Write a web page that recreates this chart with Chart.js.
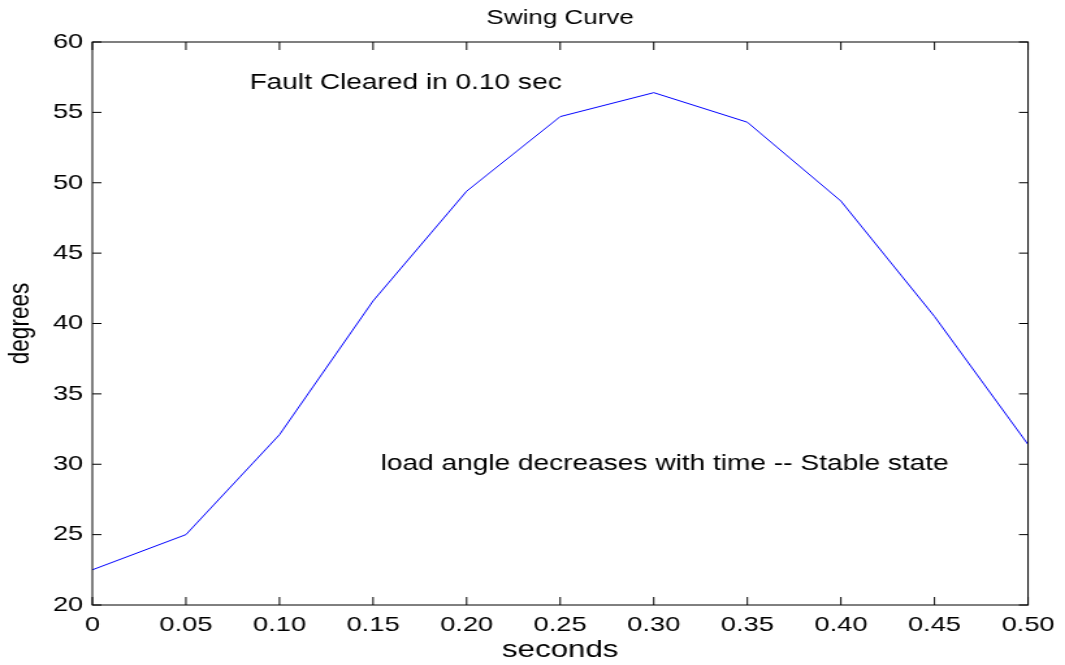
<!DOCTYPE html>
<html>
<head>
<meta charset="utf-8">
<title>Swing Curve</title>
<script src="https://cdn.jsdelivr.net/npm/chart.js@4.4.1/dist/chart.umd.min.js"></script>
<style>
    html, body { margin: 0; padding: 0; background: #fff; overflow: hidden; }
    /* the original figure is stretched sideways: draw narrower, then widen */
    #wrap { position: relative; width: 819px; height: 665px; transform: scaleX(1.3004); transform-origin: 0 0; }
</style>
</head>
<body>
<div id="wrap"><canvas id="swing_chart"></canvas></div>
<script>
const times = [0, 0.05, 0.10, 0.15, 0.20, 0.25, 0.30, 0.35, 0.40, 0.45, 0.50];
const angles = [22.5, 25.0, 32.1, 41.6, 49.4, 54.7, 56.4, 54.3, 48.7, 40.5, 31.4];

const xTicks = [0, 0.05, 0.10, 0.15, 0.20, 0.25, 0.30, 0.35, 0.40, 0.45, 0.50];
const xTickLabels = ["0", "0.05", "0.10", "0.15", "0.20", "0.25", "0.30", "0.35", "0.40", "0.45", "0.50"];
const yTicks = [20, 25, 30, 35, 40, 45, 50, 55, 60];

const noteTexts = ["Fault Cleared in 0.10 sec", "load angle decreases with time -- Stable state"];
const noteX = [0.084, 0.154];
const noteY = [57.1, 30.0];

const FONT = '"Liberation Sans", Arial, Helvetica, sans-serif';
Chart.defaults.font.family = FONT;
Chart.defaults.color = "#000";

// box round the plot, inward ticks on all four sides, and the text notes
const matlabAxes = {
    id: "matlabAxes",
    afterDraw(chart) {
        const { ctx, chartArea: a, scales: { x, y } } = chart;
        ctx.save();
        ctx.strokeStyle = "#000";
        ctx.lineWidth = 1;
        ctx.strokeRect(a.left, a.top, a.right - a.left, a.bottom - a.top);
        ctx.beginPath();
        xTicks.forEach((v) => {
            const px = x.getPixelForValue(v);
            ctx.moveTo(px, a.bottom);
            ctx.lineTo(px, a.bottom - 8);
            ctx.moveTo(px, a.top);
            ctx.lineTo(px, a.top + 8);
        });
        yTicks.forEach((v) => {
            const py = y.getPixelForValue(v);
            ctx.moveTo(a.left, py);
            ctx.lineTo(a.left + 7, py);
            ctx.moveTo(a.right, py);
            ctx.lineTo(a.right - 7, py);
        });
        ctx.stroke();

        ctx.fillStyle = "#000";
        ctx.font = "21.6px " + FONT;
        ctx.textAlign = "left";
        ctx.textBaseline = "middle";
        noteTexts.forEach((t, i) => {
            ctx.fillText(t, x.getPixelForValue(noteX[i]), y.getPixelForValue(noteY[i]));
        });
        ctx.restore();
    },
};

const ctx = document.getElementById("swing_chart").getContext("2d");
new Chart(ctx, {
    type: "line",
    data: {
        datasets: [
            {
                data: times.map((t, i) => ({ x: t, y: angles[i] })),
                borderColor: "#0000ff",
                borderWidth: 1,
                pointRadius: 0,
                tension: 0,
                fill: false,
            },
        ],
    },
    options: {
        responsive: true,
        maintainAspectRatio: false,
        animation: false,
        layout: {
            padding: { top: 0, right: 27, bottom: 0, left: 0 },
        },
        plugins: {
            legend: { display: false },
            tooltip: { enabled: false },
            title: {
                display: true,
                fullSize: false,
                text: "Swing Curve",
                color: "#000",
                font: { size: 20, weight: "normal" },
                padding: { top: 6, bottom: 12 },
            },
        },
        scales: {
            x: {
                type: "linear",
                min: 0,
                max: 0.5,
                afterBuildTicks: (scale) => {
                    scale.ticks = xTicks.map((v) => ({ value: v }));
                },
                afterFit: (scale) => {
                    scale.height = 60;
                },
                grid: { display: false, drawTicks: false },
                border: { display: false },
                ticks: {
                    padding: 8,
                    maxRotation: 0,
                    autoSkip: false,
                    font: { size: 21 },
                    callback: (value, index) => xTickLabels[index],
                },
                title: {
                    display: true,
                    text: "seconds",
                    font: { size: 24 },
                    padding: { top: 0, bottom: 0 },
                },
            },
            y: {
                min: 20,
                max: 60,
                afterBuildTicks: (scale) => {
                    scale.ticks = yTicks.map((v) => ({ value: v }));
                },
                afterFit: (scale) => {
                    scale.width = 71;
                },
                grid: { display: false, drawTicks: false },
                border: { display: false },
                ticks: {
                    padding: 7,
                    font: { size: 21 },
                },
                title: {
                    display: true,
                    text: "degrees",
                    font: { size: 22.5 },
                    padding: { top: 2, bottom: 0 },
                },
            },
        },
    },
    plugins: [matlabAxes],
});
</script>
</body>
</html>
